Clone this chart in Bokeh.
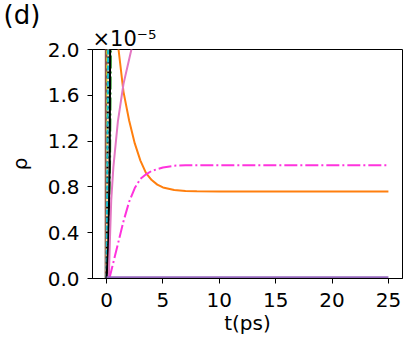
from bokeh.plotting import figure
from bokeh.models import Range1d, FixedTicker, Title
from bokeh.embed import file_html
from bokeh.resources import INLINE

# values in units of 1e-5
x_ticks = [0, 5, 10, 15, 20, 25]
y_ticks = [0.0, 0.4, 0.8, 1.2, 1.6, 2.0]
y_tick_labels = ["0.0", "0.4", "0.8", "1.2", "1.6", "2.0"]

t_orange = [0.6, 0.8, 1.06, 1.5, 2.0, 2.5, 3.0, 3.5, 4.0, 4.5, 5.0, 6.0, 7.0, 8.0, 10.0, 15.0, 20.0, 25.0]
rho_orange = [3.0, 2.45, 2.0, 1.63, 1.38, 1.18, 1.03, 0.92, 0.86, 0.82, 0.795, 0.773, 0.765, 0.762, 0.76, 0.76, 0.76, 0.76]

t_pink = [0.2, 0.3, 0.41, 0.6, 1.0, 1.5, 2.2, 2.6]
rho_pink = [0.0, 0.35, 0.68, 0.97, 1.37, 1.7, 2.0, 2.15]

t_magenta = [0.25, 0.5, 1.0, 1.5, 2.0, 2.5, 3.0, 3.5, 4.0, 5.0, 6.0, 7.0, 8.0, 10.0, 25.0]
rho_magenta = [0.0, 0.1, 0.3, 0.5, 0.67, 0.79, 0.87, 0.91, 0.94, 0.97, 0.985, 0.99, 0.99, 0.99, 0.99]

t_purple = [0.0, 25.0]
rho_purple = [0.01, 0.01]

t_brown = [0.0, 0.01, 0.02]
rho_brown = [0.0, 1.0, 2.2]
t_cyan = [0.0, 0.1, 0.15]
rho_cyan = [0.0, 1.5, 2.2]
t_kdot = [0.0, 0.12, 0.18]
rho_kdot = [0.0, 1.5, 2.2]
t_black = [0.0, 0.15, 0.28, 0.32]
rho_black = [0.0, 0.3, 1.0, 2.2]
t_green = [0.0, 0.2, 0.33, 0.42]
rho_green = [0.0, 0.4, 1.0, 2.2]

FONT = "DejaVu Sans"

p = figure(width=412, height=344, output_backend="svg", toolbar_location=None,
           x_range=Range1d(-1.25, 26.25), y_range=Range1d(0.0, 2.0),
           min_border_left=92, min_border_right=10, min_border_top=48, min_border_bottom=66)
p.xgrid.visible = False
p.ygrid.visible = False
p.outline_line_color = "black"
p.outline_line_width = 1
p.background_fill_color = "white"
p.border_fill_color = "white"

dd = "13 3 2 3"
p.line(t_green, rho_green, line_color="#2ca02c", line_width=1.5, line_dash=dd)
p.line(t_brown, rho_brown, line_color="#8c564b", line_width=4)
p.line(t_brown, rho_brown, line_color="#bcbd22", line_width=1.5, line_dash="4 3")
p.line(t_kdot, rho_kdot, line_color="#f5deb3", line_width=2)
p.line(t_kdot, rho_kdot, line_color="black", line_width=2, line_dash="2 3")
p.line(t_cyan, rho_cyan, line_color="#17becf", line_width=2, line_dash="5 3")
p.line(t_black, rho_black, line_color="black", line_width=2)
p.line(t_orange, rho_orange, line_color="#ff7f0e", line_width=2)
p.line(t_pink, rho_pink, line_color="#e377c2", line_width=2)
p.line(t_magenta, rho_magenta, line_color="#ff33dd", line_width=2, line_dash=dd)
p.line(t_purple, rho_purple, line_color="#9467bd", line_width=2)

for ax in (p.xaxis[0], p.yaxis[0]):
    ax.axis_line_color = "black"
    ax.major_tick_line_color = "black"
    ax.major_tick_in = 0
    ax.major_tick_out = 5
    ax.minor_tick_line_color = None
    ax.major_label_text_font = FONT
    ax.major_label_text_font_size = "20px"
    ax.major_label_text_color = "black"
    ax.axis_label_text_font = FONT
    ax.axis_label_text_font_size = "20px"
    ax.axis_label_text_font_style = "normal"
    ax.axis_label_text_color = "black"

p.xaxis.ticker = FixedTicker(ticks=x_ticks)
p.yaxis.ticker = FixedTicker(ticks=y_ticks)
p.yaxis.major_label_overrides = {v: s for v, s in zip(y_ticks, y_tick_labels)}
p.xaxis.major_label_standoff = 9
p.yaxis.major_label_standoff = 8
p.xaxis.axis_label = "t(ps)"
p.yaxis.axis_label = "ρ"
p.xaxis.axis_label_standoff = 1
p.yaxis.axis_label_standoff = 13

t1 = Title(text="×10⁻⁵", align="left", offset=0, standoff=-3,
           text_font=FONT, text_font_size="21px", text_font_style="normal", text_color="black")
t2 = Title(text="(d)", align="left", offset=-89, standoff=-6,
           text_font=FONT, text_font_size="26px", text_font_style="normal", text_color="black")
p.add_layout(t1, "above")
p.add_layout(t2, "above")

open("out.html", "w").write(file_html(p, INLINE))
